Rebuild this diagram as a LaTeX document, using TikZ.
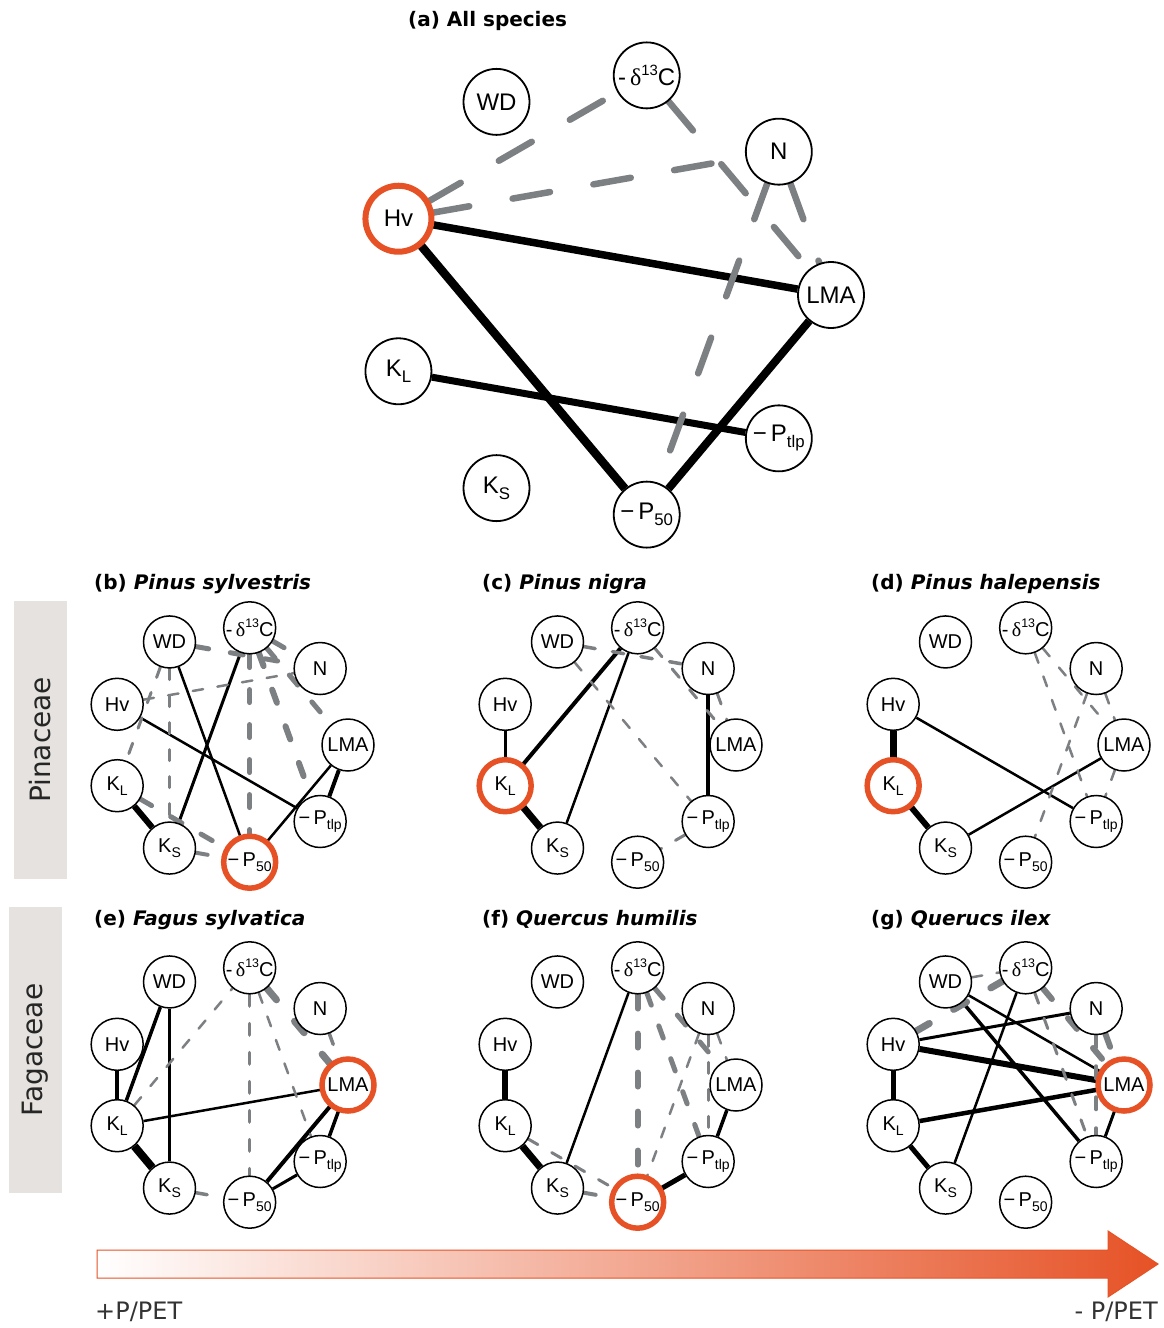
\documentclass[tikz,border=0pt]{standalone}
\usepackage{fontspec}
\usepackage{graphicx}
\setmainfont{Liberation Sans}
\newfontfamily\symf{Liberation Serif}
\newfontfamily\vfont{DejaVu Sans}
\definecolor{orgc}{RGB}{230,82,38}
\definecolor{grayc}{RGB}{125,128,131}
\definecolor{boxc}{RGB}{229,226,223}
\pgfdeclarelayer{bg}
\pgfsetlayers{bg,main}
\newcommand\lsub[1]{\raisebox{-0.25em}{\scalebox{0.7}{#1}}}
\newcommand\lKL{K\lsub{L}}
\newcommand\lKS{K\lsub{S}}
\newcommand\lPt{−\,P\lsub{tlp}}
\newcommand\lPf{−\,P\lsub{50}}
\newcommand\ldC{-\,{\symf δ}\raisebox{0.42em}{\scalebox{0.62}{13}}C}
\newcommand\mkpanel[5]{%
  \foreach \nm/\ang/\lab in {LMA/0/LMA,N/40/N,C/80/\ldC,WD/120/WD,Hv/160/Hv,KL/200/\lKL,KS/240/\lKS,P/280/\lPf,T/320/\lPt}{%
    \node[#5] (#1\nm) at ({#2+#4*cos(\ang)},{#3-#4*sin(\ang)}) {\lab};
  }%
}
\newcommand\ring[3]{\draw[orgc, line width=#3pt] (#1.center) circle[radius=#2];}
\newcommand\Ep[3]{\draw[ps=#3] (#1) -- (#2);}
\newcommand\En[3]{\draw[ng=#3] (#1) -- (#2);}
\begin{document}
\begin{tikzpicture}[x=1pt,y=-1pt,
  snode/.style={circle, draw=black, fill=white, line width=1.5pt, minimum size=52pt, inner sep=0pt, font=\fontsize{20}{20}\selectfont},
  bnode/.style={circle, draw=black, fill=white, line width=1.8pt, minimum size=66pt, inner sep=0pt, font=\fontsize{24}{24}\selectfont},
  ps/.style={draw=black, line width=#1pt},
  ng/.code={\pgfmathsetmacro\dOn{8+#1}\pgfmathsetmacro\dOff{7+3*#1}\tikzset{draw=grayc,line width=#1pt,line cap=round,dash pattern=on \dOn pt off \dOff pt}},
  nga/.style={draw=grayc, line width=#1pt, line cap=round, dash pattern=on 38pt off 44pt},
  ttl/.style={anchor=base west, inner sep=0pt, font=\vfont\bfseries\fontsize{20}{20}\selectfont},
  side/.style={rotate=90, inner sep=0pt, font=\vfont\fontsize{28}{28}\selectfont, text=black!85},
  bot/.style={inner sep=0pt, font=\vfont\fontsize{24}{24}\selectfont, text=black!80}]
\begin{pgfonlayer}{bg}
\fill[white] (0,0) rectangle (1163,1328);
\end{pgfonlayer}
\useasboundingbox (0,0) rectangle (1163,1328);

% titles
\node[ttl] (ta) at (408,26) {(a) All species};
\node[ttl] (tb) at (94,589) {(b) {\itshape Pinus sylvestris}};
\node[ttl] (tc) at (482,589) {(c) {\itshape Pinus nigra}};
\node[ttl] (td) at (871,589) {(d) {\itshape Pinus halepensis}};
\node[ttl] (te) at (94,925) {(e) {\itshape Fagus sylvatica}};
\node[ttl] (tf) at (482,925) {(f) {\itshape Quercus humilis}};
\node[ttl] (tg) at (871,925) {(g) {\itshape Querucs ilex}};

% side boxes
\fill[boxc] (14,601) rectangle (67,879);
\node[side] (pin) at (40.5,740) {Pinaceae};
\fill[boxc] (9,907) rectangle (62,1193);
\node[side] (fag) at (35.5,1050) {Fagaceae};

% bottom arrow
\shadedraw[left color=white, right color=orgc, draw=orgc, line width=1pt] (97,1250) -- (1108,1250) -- (1108,1231) -- (1158,1264) -- (1108,1297) -- (1108,1278) -- (97,1278) -- cycle;
\node[bot, anchor=west] (lp) at (95,1312) {+P/PET};
\node[bot, anchor=east] (rp) at (1158,1312) {- P/PET};

% ---------- panel a
\mkpanel{a}{608}{295}{223}{bnode}
\ring{aHv}{33}{6}
\begin{pgfonlayer}{bg}
\Ep{aHv}{aLMA}{7.5}
\Ep{aHv}{aP}{8.5}
\Ep{aLMA}{aP}{8}
\Ep{aKL}{aT}{7}
\draw[nga=6.5] (aHv) -- (aC);
\draw[nga=6.5] (aHv) -- (aN);
\draw[nga=6.5] (aC) -- (aLMA);
\draw[nga=6.5] (aN) -- (aLMA);
\draw[nga=6.5] (aN) -- (aP);
\end{pgfonlayer}

% ---------- panel b
\mkpanel{b}{229}{745}{119}{snode}
\ring{bP}{26}{5.5}
\begin{pgfonlayer}{bg}
\Ep{bKL}{bKS}{6}
\Ep{bWD}{bP}{2.5}
\Ep{bC}{bKS}{3}
\Ep{bHv}{bT}{2.5}
\Ep{bLMA}{bP}{2.5}
\Ep{bLMA}{bT}{4}
\En{bKL}{bP}{5}
\En{bKS}{bP}{4}
\En{bWD}{bKS}{3}
\En{bWD}{bKL}{3}
\En{bHv}{bN}{2.5}
\En{bC}{bP}{5}
\En{bC}{bT}{6}
\En{bC}{bN}{5}
\En{bWD}{bN}{5}
\En{bC}{bLMA}{5}
\end{pgfonlayer}

% ---------- panel c
\mkpanel{c}{617}{745}{119}{snode}
\ring{cKL}{26}{5.5}
\begin{pgfonlayer}{bg}
\Ep{cHv}{cKL}{3}
\Ep{cKL}{cKS}{7}
\Ep{cKL}{cC}{4}
\Ep{cKS}{cC}{2.5}
\Ep{cN}{cT}{3.5}
\En{cWD}{cT}{2.5}
\En{cWD}{cN}{3.5}
\En{cC}{cLMA}{3}
\En{cN}{cLMA}{3}
\En{cT}{cP}{3}
\end{pgfonlayer}

% ---------- panel d
\mkpanel{d}{1005}{745}{119}{snode}
\ring{dKL}{26}{5.5}
\begin{pgfonlayer}{bg}
\Ep{dHv}{dKL}{7}
\Ep{dKL}{dKS}{6}
\Ep{dHv}{dT}{2.5}
\Ep{dKS}{dLMA}{2.5}
\En{dC}{dT}{2.5}
\En{dC}{dLMA}{2.5}
\En{dN}{dP}{2.5}
\En{dLMA}{dT}{2.5}
\En{dN}{dLMA}{2.5}
\end{pgfonlayer}

% ---------- panel e
\mkpanel{e}{229}{1085}{119}{snode}
\ring{eLMA}{26}{5.5}
\begin{pgfonlayer}{bg}
\Ep{eHv}{eKL}{4}
\Ep{eWD}{eKL}{3.5}
\Ep{eWD}{eKS}{3.5}
\Ep{eKL}{eKS}{8}
\Ep{eKL}{eLMA}{2.5}
\Ep{eLMA}{eP}{4}
\Ep{eLMA}{eT}{3.5}
\Ep{eT}{eP}{3}
\En{eKS}{eP}{3.5}
\En{eKL}{eC}{2.5}
\En{eC}{eP}{3.5}
\En{eC}{eT}{2.5}
\En{eC}{eLMA}{7}
\En{eN}{eLMA}{3.5}
\end{pgfonlayer}

% ---------- panel f
\mkpanel{f}{617}{1085}{119}{snode}
\ring{fP}{26}{5.5}
\begin{pgfonlayer}{bg}
\Ep{fHv}{fKL}{6}
\Ep{fKL}{fKS}{7}
\Ep{fC}{fKS}{2.5}
\Ep{fLMA}{fT}{3.5}
\Ep{fT}{fP}{5}
\En{fKL}{fP}{3}
\En{fKS}{fP}{4}
\En{fC}{fP}{6}
\En{fC}{fT}{5}
\En{fC}{fLMA}{5}
\En{fN}{fP}{2.5}
\En{fN}{fT}{3}
\En{fN}{fLMA}{2.5}
\end{pgfonlayer}

% ---------- panel g
\mkpanel{g}{1005}{1085}{119}{snode}
\ring{gLMA}{26}{5.5}
\begin{pgfonlayer}{bg}
\Ep{gHv}{gN}{3}
\Ep{gHv}{gLMA}{6}
\Ep{gKL}{gLMA}{4.5}
\Ep{gHv}{gKL}{5}
\Ep{gKL}{gKS}{5}
\Ep{gWD}{gLMA}{2.5}
\Ep{gWD}{gT}{3.5}
\Ep{gC}{gKS}{2.5}
\Ep{gLMA}{gT}{3}
\En{gWD}{gC}{2.5}
\En{gHv}{gC}{7}
\En{gC}{gLMA}{6}
\En{gN}{gLMA}{6}
\En{gC}{gT}{3}
\En{gN}{gT}{4}
\end{pgfonlayer}
\end{tikzpicture}
\end{document}
